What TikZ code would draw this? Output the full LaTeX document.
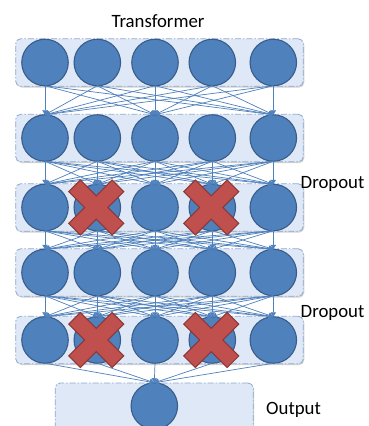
\documentclass[tikz,border=0pt]{standalone}
\usepackage{fontspec}
\setmainfont{Carlito}
\usetikzlibrary{arrows.meta,shadows}
\definecolor{unitfill}{HTML}{4F81BD}
\definecolor{unitedge}{HTML}{385D8A}
\definecolor{layerfill}{HTML}{DFE8F6}
\definecolor{layeredge}{HTML}{8EA9CF}
\definecolor{dropfill}{HTML}{C0504D}
\definecolor{dropedge}{HTML}{8C3836}
\definecolor{linkcol}{HTML}{4F81BD}

\begin{document}
\begin{tikzpicture}[x=1pt,y=-1pt,
  layer/.style={draw=layeredge, fill=layerfill, line width=0.8pt,
    dash pattern=on 6pt off 2pt on 1.5pt off 2pt, rounded corners=5pt,
    inner sep=0pt, outer sep=0pt,
    drop shadow={shadow xshift=1pt, shadow yshift=-1.3pt, opacity=0.18, fill=black}},
  unit/.style={circle, draw=unitedge, fill=unitfill, line width=1.1pt,
    minimum size=46.5pt, inner sep=0pt, outer sep=0pt},
  link/.style={draw=linkcol, line width=0.7pt, -{Triangle[width=5.5pt,length=4.5pt]}},
  xmark/.style={fill=dropfill, draw=dropedge, line width=1pt, line join=miter},
  caption/.style={font=\fontsize{18.8}{20}\selectfont, inner sep=0pt, text=black},
  dropmark/.pic={\path[xmark] (0,-11.6) -- (15.9,-27.5) -- (27.5,-15.9) -- (11.6,0)
    -- (27.5,15.9) -- (15.9,27.5) -- (0,11.6) -- (-15.9,27.5) -- (-27.5,15.9)
    -- (-11.6,0) -- (-27.5,-15.9) -- (-15.9,-27.5) -- cycle;}
]
\clip (0,0) rectangle (369,426);
\fill[white] (0,0) rectangle (369,426);

% layer panels
\foreach \r/\y in {1/62.5,2/138,3/207.5,4/272.5,5/340}
  \node[layer, minimum width=287.6pt, minimum height=47.5pt] (layer\r) at (159.5,\y) {};
\node[layer, minimum width=198pt, minimum height=80pt, anchor=north] (layerout) at (154.2,383) {};

% units
\foreach \r/\y in {1/62.5,2/138,3/207.5,4/272.5,5/340}
  \foreach \c/\x in {1/45,2/97.3,3/155,4/212.3,5/273.3}
    \node[unit] (u\r\c) at (\x,\y) {};
\node[unit] (out) at (154.3,406) {};

% connections
\foreach \s in {1,...,5}
  \foreach \t in {1,3,5}
    \draw[link] (u1\s.south) -- (u2\t.north);
\foreach \r/\n in {2/3,3/4,4/5}
  \foreach \s in {1,...,5}
    \foreach \t in {1,...,5}
      \draw[link] (u\r\s.south) -- (u\n\t.north);
\foreach \s in {1,...,5}
  \draw[link] (u5\s.south) -- (out.north);

% dropped units
\pic at ([xshift=-1pt]u32.center) {dropmark};
\pic at ([xshift=-1pt]u34.center) {dropmark};
\pic at ([xshift=-1pt]u52.center) {dropmark};
\pic at ([xshift=-1pt]u54.center) {dropmark};

% labels
\node[caption, anchor=base] (title) at (158,27.3) {Transformer};
\node[caption, anchor=base west] (drop1) at (300.5,188) {Dropout};
\node[caption, anchor=base west] (drop2) at (300.5,317) {Dropout};
\node[caption, anchor=base west] (outlabel) at (266,414) {Output};
\end{tikzpicture}
\end{document}
